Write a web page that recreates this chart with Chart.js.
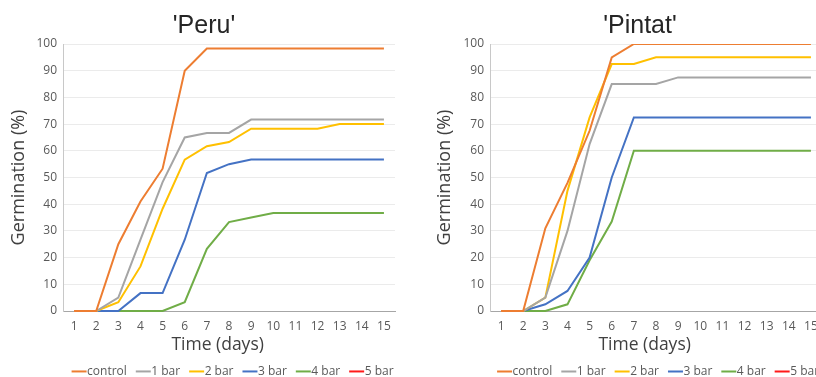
<!DOCTYPE html>
<html>
<head>
<meta charset="utf-8">
<title>Germination over time</title>
<script src="https://cdn.jsdelivr.net/npm/chart.js@4/dist/chart.umd.min.js"></script>
<style>
  html, body { margin: 0; padding: 0; background: #fff; }
  #wrap { position: relative; width: 816px; height: 377px; overflow: hidden; }
  .panel { position: absolute; top: 0; height: 377px; }
  #peruPanel { left: 0; width: 408px; }
  #pintatPanel { left: 408px; width: 464px; }
  canvas { display: block; }
</style>
</head>
<body>
<div id="wrap">
  <div class="panel" id="peruPanel"><canvas id="peruChart" width="408" height="377"></canvas></div>
  <div class="panel" id="pintatPanel"><canvas id="pintatChart" width="464" height="377"></canvas></div>
</div>
<script>
// Days after sowing (x categories)
const dayLabels = ['1', '2', '3', '4', '5', '6', '7', '8', '9', '10', '11', '12', '13', '14', '15'];

// Treatments and their line colours
const seriesNames = ['control', '1 bar', '2 bar', '3 bar', '4 bar', '5 bar'];
const seriesColors = ['#ed7d31', '#a5a5a5', '#ffc000', '#4472c4', '#70ad47', '#ff1a1a'];

// Cumulative germination (%) - 'Peru'
const peruControl = [0, 0, 25, 41, 53.3, 90, 98.3, 98.3, 98.3, 98.3, 98.3, 98.3, 98.3, 98.3, 98.3];
const peru1bar    = [0, 0, 5, 26.7, 48.3, 65, 66.7, 66.7, 71.7, 71.7, 71.7, 71.7, 71.7, 71.7, 71.7];
const peru2bar    = [0, 0, 3.3, 16.7, 38.3, 56.7, 61.7, 63.3, 68.3, 68.3, 68.3, 68.3, 70, 70, 70];
const peru3bar    = [0, 0, 0, 6.7, 6.7, 26.7, 51.7, 55, 56.7, 56.7, 56.7, 56.7, 56.7, 56.7, 56.7];
const peru4bar    = [0, 0, 0, 0, 0, 3.3, 23.3, 33.3, 35, 36.7, 36.7, 36.7, 36.7, 36.7, 36.7];
const peru5bar    = [];

// Cumulative germination (%) - 'Pintat'
const pintatControl = [0, 0, 31, 48, 67.5, 95, 100, 100, 100, 100, 100, 100, 100, 100, 100];
const pintat1bar    = [0, 0, 5, 30, 62.5, 85, 85, 85, 87.5, 87.5, 87.5, 87.5, 87.5, 87.5, 87.5];
const pintat2bar    = [0, 0, 5, 45, 72.5, 92.5, 92.5, 95, 95, 95, 95, 95, 95, 95, 95];
const pintat3bar    = [0, 0, 2.5, 7.5, 20, 50, 72.5, 72.5, 72.5, 72.5, 72.5, 72.5, 72.5, 72.5, 72.5];
const pintat4bar    = [0, 0, 0, 2.5, 19, 33.5, 60, 60, 60, 60, 60, 60, 60, 60, 60];
const pintat5bar    = [];

const tickFont = { family: 'Open Sans', size: 12 };
const tickColor = '#595959';

function buildChart(canvasId, titleText, series, frame) {
  const datasets = series.map((values, i) => ({
    label: seriesNames[i],
    data: values,
    borderColor: seriesColors[i],
    backgroundColor: seriesColors[i],
    borderWidth: 2,
    pointRadius: 0,
    pointHoverRadius: 0,
    tension: 0,
    fill: false,
    clip: { top: 0, left: 4, right: 4, bottom: 4 }
  }));

  return new Chart(document.getElementById(canvasId), {
    type: 'line',
    data: { labels: dayLabels, datasets },
    options: {
      responsive: false,
      animation: false,
      events: [],
      layout: { padding: { left: frame.sidePad, right: frame.sidePad, top: 0, bottom: 0 } },
      plugins: {
        title: {
          display: true,
          text: titleText,
          color: '#262626',
          font: { family: 'Liberation Sans', size: 25, weight: 'normal', lineHeight: 1.2 },
          padding: { top: 10.7, bottom: 3.3 }
        },
        legend: {
          position: 'bottom',
          align: 'end',
          maxHeight: 26,
          labels: {
            usePointStyle: true,
            pointStyle: 'line',
            boxWidth: 4,
            boxHeight: 10.6,
            padding: 14.45,
            color: tickColor,
            font: { family: 'Open Sans', size: 12 }
          }
        },
        tooltip: { enabled: false }
      },
      scales: {
        x: {
          type: 'category',
          offset: true,
          grid: { display: false, drawTicks: false },
          border: { display: true, color: '#a6a6a6', width: 1 },
          ticks: { color: tickColor, font: tickFont, padding: 8, maxRotation: 0, autoSkip: false },
          title: {
            display: true,
            // trailing spaces nudge the centred caption slightly left of the plot centre
            text: 'Time (days)     ',
            color: '#404040',
            font: { family: 'Open Sans', size: 17.5, lineHeight: 1.2 },
            padding: { top: 0, bottom: -4.5 }
          },
          afterFit(scale) {
            scale.height = 40;
            // reserved space right of the plot, measured from the canvas edge
            scale.paddingRight = frame.rightGap;
          }
        },
        y: {
          min: 0,
          max: 100,
          ticks: { stepSize: 10, color: tickColor, font: tickFont, padding: 6 },
          grid: { color: '#ebebeb', drawTicks: false },
          border: { display: true, color: '#c8c8c8', width: 1 },
          title: {
            display: true,
            text: 'Germination (%)',
            color: '#404040',
            font: { family: 'Open Sans', size: 18, lineHeight: 1.2 },
            padding: { top: frame.yTitleGap, bottom: 0 }
          },
          afterFit(scale) {
            scale.width = frame.axisWidth;
          }
        }
      }
    }
  });
}

buildChart('peruChart', "'Peru'",
  [peruControl, peru1bar, peru2bar, peru3bar, peru4bar, peru5bar],
  { sidePad: 0, axisWidth: 63, rightGap: 13, yTitleGap: 7.7 });

buildChart('pintatChart', "'Pintat'",
  [pintatControl, pintat1bar, pintat2bar, pintat3bar, pintat4bar, pintat5bar],
  { sidePad: 38.5, axisWidth: 43.5, rightGap: 50, yTitleGap: -12.6 });
</script>
</body>
</html>
